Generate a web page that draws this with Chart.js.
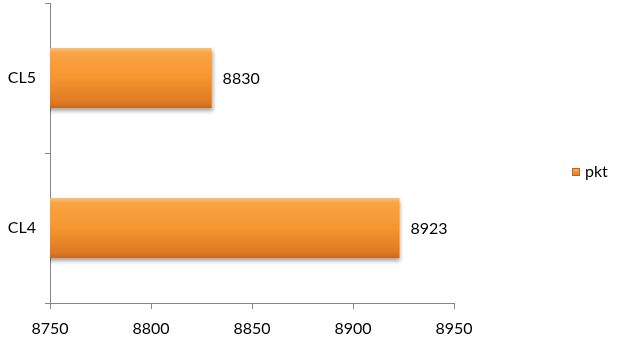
<!DOCTYPE html>
<html>
<head>
<meta charset="utf-8">
<script src="https://cdn.jsdelivr.net/npm/chart.js@4"></script>
<style>
  html, body { margin: 0; padding: 0; background: #fff; }
  #wrap { width: 619px; height: 340px; }
</style>
</head>
<body>
<div id="wrap"><canvas id="chart" width="619" height="340"></canvas></div>
<script>
var categories = ["CL5", "CL4"];
var pktValues = [8830, 8923];
var seriesName = "pkt";
var xTicks = [8750, 8800, 8850, 8900, 8950];

var fontFamily = "Lato, 'Liberation Sans', sans-serif";
var axisGray = "#868686";

// vertical gradient for each bar, lighter on top, darker bottom
function barFill(ctx) {
  var chart = ctx.chart;
  if (!chart.chartArea || !chart.scales.y) return "#F79646";
  var yScale = chart.scales.y;
  var cy = yScale.getPixelForValue(ctx.dataIndex);
  var half = (yScale.height / categories.length) * 0.4 / 2;
  var g = chart.ctx.createLinearGradient(0, cy - half, 0, cy + half);
  g.addColorStop(0, "#FBC07A");
  g.addColorStop(0.08, "#F9A443");
  g.addColorStop(0.5, "#F5962F");
  g.addColorStop(0.9, "#DE7A24");
  g.addColorStop(1, "#C9691B");
  return g;
}

var barShadow = {
  id: "barShadow",
  beforeDatasetDraw: function(chart) {
    var c = chart.ctx;
    c.save();
    c.shadowColor = "rgba(0,0,0,0.35)";
    c.shadowBlur = 4;
    c.shadowOffsetX = 1;
    c.shadowOffsetY = 3;
  },
  afterDatasetDraw: function(chart) {
    chart.ctx.restore();
  }
};

var valueLabels = {
  id: "valueLabels",
  afterDatasetsDraw: function(chart) {
    var c = chart.ctx;
    var meta = chart.getDatasetMeta(0);
    c.save();
    c.font = "16px " + fontFamily;
    c.fillStyle = "#000";
    c.textAlign = "left";
    c.textBaseline = "middle";
    meta.data.forEach(function(bar, i) {
      c.fillText(String(pktValues[i]), bar.x + 11, bar.y + 1);
    });
    c.restore();
  }
};

var sideLegend = {
  id: "sideLegend",
  afterDraw: function(chart) {
    var c = chart.ctx;
    var x = 572, y = 172;
    c.save();
    var g = c.createLinearGradient(0, y - 4, 0, y + 4);
    g.addColorStop(0, "#FBB060");
    g.addColorStop(1, "#D9761F");
    c.fillStyle = g;
    c.fillRect(x, y - 4, 8, 8);
    c.strokeStyle = "#C0651A";
    c.lineWidth = 1;
    c.strokeRect(x + 0.5, y - 3.5, 7, 7);
    c.font = "16px " + fontFamily;
    c.fillStyle = "#000";
    c.textBaseline = "middle";
    c.fillText(seriesName, x + 13, y);
    c.restore();
  }
};

var chart = new Chart(document.getElementById("chart"), {
  type: "bar",
  data: {
    labels: categories,
    datasets: [{
      label: seriesName,
      data: pktValues,
      backgroundColor: barFill,
      borderWidth: 0,
      categoryPercentage: 0.8,
      barPercentage: 0.5
    }]
  },
  options: {
    indexAxis: "y",
    responsive: false,
    animation: false,
    layout: { padding: { top: 3, right: 165, left: 0, bottom: 0 } },
    plugins: {
      legend: { display: false },
      tooltip: { enabled: false }
    },
    scales: {
      x: {
        min: 8750,
        max: 8950,
        afterBuildTicks: function(scale) {
          scale.ticks = xTicks.map(function(v) { return { value: v }; });
        },
        afterFit: function(scale) {
          scale.height = 37;
          scale.paddingLeft = 0;
          scale.paddingRight = 0;
        },
        grid: {
          drawOnChartArea: false,
          drawTicks: true,
          tickLength: 6,
          color: axisGray
        },
        border: { color: axisGray },
        ticks: {
          padding: 10,
          color: "#000",
          font: { family: fontFamily, size: 16 },
          callback: function(v) { return String(v); }
        }
      },
      y: {
        afterFit: function(scale) {
          scale.width = 50;
          scale.paddingTop = 0;
          scale.paddingBottom = 0;
        },
        grid: {
          offset: true,
          drawOnChartArea: false,
          drawTicks: true,
          tickLength: 5,
          color: axisGray
        },
        border: { color: axisGray },
        ticks: {
          padding: 9,
          color: "#000",
          font: { family: fontFamily, size: 16 }
        }
      }
    }
  },
  plugins: [barShadow, valueLabels, sideLegend]
});
</script>
</body>
</html>
